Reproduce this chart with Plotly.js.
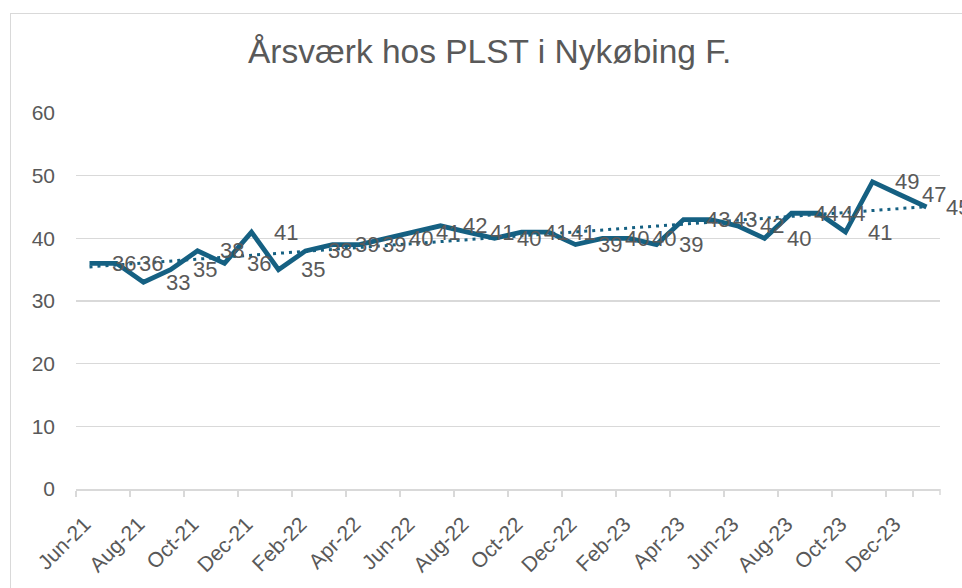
<!DOCTYPE html>
<html>
<head>
<meta charset="utf-8">
<script src="https://cdn.plot.ly/plotly-3.0.1.min.js"></script>
<style>
  html, body { margin: 0; padding: 0; background: #fff; overflow: hidden; }
  #wrap { position: relative; width: 962px; height: 588px; overflow: hidden; }
  #chart { position: absolute; left: 0; top: 0; width: 962px; height: 588px; }
  #frame { position: absolute; left: 10px; top: 13px; width: 1000px; height: 1000px;
           border: 1.5px solid #d9d9d9; pointer-events: none; }
</style>
</head>
<body>
<div id="wrap">
  <div id="chart"></div>
  <div id="frame"></div>
</div>
<script>
const chartTitle = "Årsværk hos PLST i Nykøbing F.";
const months = ["Jun-21","Jul-21","Aug-21","Sep-21","Oct-21","Nov-21","Dec-21",
  "Jan-22","Feb-22","Mar-22","Apr-22","May-22","Jun-22","Jul-22","Aug-22","Sep-22","Oct-22","Nov-22","Dec-22",
  "Jan-23","Feb-23","Mar-23","Apr-23","May-23","Jun-23","Jul-23","Aug-23","Sep-23","Oct-23","Nov-23","Dec-23",
  "Jan-24"];
const fte = [36,36,33,35,38,36,41,35,38,39,39,40,41,42,41,40,41,41,39,40,40,39,43,43,42,40,44,44,41,49,47,45];
const yTicks = [0,10,20,30,40,50,60];

const lineColor = "#156082";
const textColor = "#595959";
const gridColor = "#d9d9d9";
const fontFam = "'Liberation Sans', Arial, sans-serif";

// Linear trendline (least squares on the data, as Excel computes it)
const n = fte.length;
let sx = 0, sy = 0, sxy = 0, sxx = 0;
fte.forEach((v, i) => { sx += i; sy += v; sxy += i * v; sxx += i * i; });
const slope = (n * sxy - sx * sy) / (n * sxx - sx * sx);
const intercept = (sy - slope * sx) / n;
const trend = fte.map((_, i) => intercept + slope * i);

const traces = [
  { x: months, y: fte, type: "scatter", mode: "lines",
    line: { color: lineColor, width: 4.8 }, hoverinfo: "skip" },
  { x: months, y: trend, type: "scatter", mode: "lines",
    line: { color: lineColor, width: 3, dash: "3px,5px" }, hoverinfo: "skip" }
];

const annotations = fte.map((v, i) => ({
  x: months[i], y: v, xref: "x", yref: "y", text: String(v), showarrow: false,
  xanchor: "center", yanchor: "middle", xshift: (i === fte.length - 1 ? 31 : 34),
  font: { family: fontFam, size: 22, color: textColor }
}));

// closing boundary tick at the right end of the category axis (axis decoration)
const shapes = [{
  type: "line", xref: "paper", yref: "paper", ysizemode: "pixel", yanchor: 0,
  x0: 1, x1: 1, y0: 0, y1: -6,
  line: { color: gridColor, width: 1.5 }
}];

const layout = {
  width: 962, height: 588,
  margin: { l: 76, r: 22, t: 113, b: 99 },
  paper_bgcolor: "#ffffff", plot_bgcolor: "#ffffff",
  showlegend: false,
  title: { text: chartTitle, xref: "container", yref: "container",
           x: 0.509, xanchor: "center", y: 0.913, yanchor: "middle",
           font: { family: fontFam, size: 33.5, color: textColor } },
  xaxis: {
    type: "category", categoryorder: "array", categoryarray: months,
    range: [-0.5, months.length - 0.5],
    tickmode: "array", tickvals: months.filter((_, i) => i % 2 === 0),
    tickson: "boundaries", ticks: "outside", ticklen: 6, tickwidth: 1.5, tickcolor: gridColor,
    tickangle: -45, ticklabelstandoff: 13, ticklabelshift: -5,
    tickfont: { family: fontFam, size: 21, color: textColor },
    showline: true, linecolor: gridColor, linewidth: 1.5, showgrid: false, zeroline: false,
    fixedrange: true
  },
  yaxis: {
    range: [0, 60], tickmode: "array", tickvals: yTicks, ticktext: yTicks.map(String),
    showgrid: true, gridcolor: gridColor, gridwidth: 1.5, zeroline: false, showline: false,
    ticks: "", ticklabelstandoff: 20,
    tickfont: { family: fontFam, size: 21, color: textColor }, fixedrange: true
  },
  shapes: shapes,
  annotations: annotations
};

Plotly.newPlot("chart", traces, layout, { staticPlot: true, displayModeBar: false });
</script>
</body>
</html>
